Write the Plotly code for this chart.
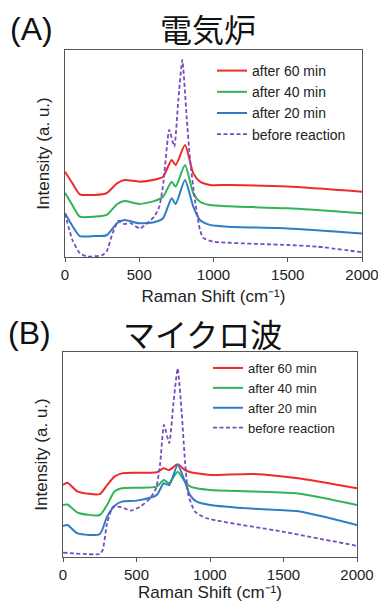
import plotly.graph_objects as go

# ---------------- data (arbitrary intensity units, 0-100 of panel height) ----------------
series_names = ["after 60 min", "after 40 min", "after 20 min", "before reaction"]

# Panel A: 電気炉
a_x = [0, 50, 100, 200, 280, 350, 400, 500, 600, 660, 718, 745, 808, 864, 909, 976, 1100, 1500, 2000]
a_60 = [41.2, 35.6, 30.3, 30, 30.8, 35.6, 37.2, 36.4, 37.3, 38.8, 46.9, 44.4, 54.1, 40.4, 36.4, 34.8, 34.8, 34, 31.5]
a_40 = [31, 25, 19.5, 19.5, 20.3, 25.5, 27, 25.6, 27, 29.1, 36.4, 34, 44.4, 30.8, 26.7, 25.1, 24.5, 23.5, 21.1]
a_20 = [21.1, 15, 10.1, 10.1, 10.5, 16.3, 17.9, 16.3, 16.8, 18.7, 28.4, 25.6, 37.2, 24.3, 17.9, 15.5, 14.6, 13.8, 11.4]
a_before_x = [0, 50, 100, 150, 250, 280, 320, 360, 400, 440, 505, 600, 635, 662, 702, 736, 763, 790,
              819, 842, 875, 909, 931, 1000, 1500, 1700, 2000]
a_before = [21.1, 8.2, 1.8, 0.2, 0.9, 2.6, 11.4, 17.5, 15.9, 16.4, 13.8, 19.5, 24.3, 35.6, 61.4, 53.3, 75.8, 95.2,
            67.8, 46.9, 27.5, 13, 9.2, 7.4, 5.8, 5, 2.3]

# Panel B: マイクロ波
b_x = [0, 30, 100, 250, 300, 350, 400, 500, 637, 685, 722, 780, 830, 864, 909, 1000, 1300, 1600, 2000]
b_60 = [35.1, 36.2, 31.9, 30.7, 35.1, 39.2, 40.8, 41.1, 41.3, 43.3, 42.4, 45.2, 42.4, 41.5, 40.8, 40, 40.5, 38.4, 33.5]
b_40 = [25.4, 25.6, 21.6, 20.5, 25.4, 31.9, 33.5, 33.8, 34.3, 37.6, 36, 41.6, 36.7, 34.5, 33.5, 32.7, 32, 31, 25.4]
b_20 = [15.1, 15.6, 11.5, 11.2, 19.7, 24.9, 27, 27.5, 30.2, 36, 35, 44.9, 36.7, 30.2, 27, 25.4, 23.5, 22.3, 15.6]
b_before_x = [0, 250, 270, 300, 340, 400, 460, 524, 592, 633, 660, 687, 723, 750, 780, 807, 830, 853,
              898, 977, 1500, 2000]
b_before = [2.1, 1.5, 3.4, 16.4, 24.5, 24.2, 22.6, 24.5, 28.6, 33.5, 44.9, 64.4, 55.5, 74, 92, 70.9, 46.5, 30.2,
            22.1, 18.9, 12.3, 5.4]

x_ticks = [0, 500, 1000, 1500, 2000]
panel_labels = ["(A)", "(B)"]
panel_titles = ["電気炉", "マイクロ波"]
x_title = "Raman Shift (cm⁻¹)"
y_title = "Intensity (a. u.)"

# ---------------- figure ----------------
W, H = 378, 602
colors = ["#ee2b2b", "#2fb457", "#2e7ec4", "#7a4bc0"]
FONT = "Liberation Sans, Arial, sans-serif"
JP = "Noto Sans CJK JP, sans-serif"

fig = go.Figure()

panels = [
    ("x", "y", "legend", a_x, [a_60, a_40, a_20], a_before_x, a_before),
    ("x2", "y2", "legend2", b_x, [b_60, b_40, b_20], b_before_x, b_before),
]
for xa, ya, lg, xs, solids, bx, bv in panels:
    for i, ys in enumerate(solids):
        fig.add_trace(go.Scatter(x=xs, y=ys, mode="lines", name=series_names[i], xaxis=xa, yaxis=ya,
                                 legend=lg, line=dict(color=colors[i], width=2, shape="spline", smoothing=0.6)))
    fig.add_trace(go.Scatter(x=bx, y=bv, mode="lines", name=series_names[3], xaxis=xa, yaxis=ya, legend=lg,
                             line=dict(color=colors[3], width=1.8, dash="4px,2.5px", shape="spline",
                                       smoothing=0.5)))


def px_x(p):
    return p / W


def px_y(p):
    return 1 - p / H


axis_common = dict(showline=True, linecolor="#555", linewidth=1, mirror=True, showgrid=False, zeroline=False,
                   automargin=False)
xcommon = dict(axis_common, range=[0, 2000], tickvals=x_ticks, ticks="outside", ticklen=4, tickcolor="#555",
               ticklabeloverflow="allow",
               tickfont=dict(family=FONT, size=15, color="#222"),
               title=dict(text=x_title, font=dict(family=FONT, size=17, color="#222"), standoff=8))
ycommon = dict(axis_common, range=[0, 100], showticklabels=False, ticks="",
               title=dict(text=y_title, font=dict(family=FONT, size=17, color="#222"), standoff=10))

fig.update_layout(
    width=W, height=H, margin=dict(l=0, r=0, t=0, b=0, autoexpand=False),
    paper_bgcolor="white", plot_bgcolor="white",
    xaxis=dict(xcommon, domain=[px_x(65), px_x(362)], anchor="y"),
    yaxis=dict(ycommon, domain=[px_y(257), px_y(50)], anchor="x"),
    xaxis2=dict(xcommon, domain=[px_x(63), px_x(357)], anchor="y2"),
    yaxis2=dict(ycommon, domain=[px_y(557), px_y(352)], anchor="x2"),
    legend=dict(x=px_x(212), y=px_y(55), xanchor="left", yanchor="top", bgcolor="rgba(0,0,0,0)",
                font=dict(family=FONT, size=14, color="#222"), itemwidth=30, traceorder="normal"),
    legend2=dict(x=px_x(208), y=px_y(353), xanchor="left", yanchor="top", bgcolor="rgba(0,0,0,0)",
                 font=dict(family=FONT, size=13, color="#222"), itemwidth=30, traceorder="normal"),
    showlegend=True,
)

annots = [
    dict(text=panel_labels[0], x=px_x(8), y=px_y(29), xanchor="left", font=dict(family=FONT, size=32, color="#111")),
    dict(text=panel_titles[0], x=px_x(208), y=px_y(28), xanchor="center", font=dict(family=JP, size=32, color="#111")),
    dict(text=panel_labels[1], x=px_x(6), y=px_y(333), xanchor="left", font=dict(family=FONT, size=32, color="#111")),
    dict(text=panel_titles[1], x=px_x(202), y=px_y(333), xanchor="center", font=dict(family=JP, size=32, color="#111")),
]
for a in annots:
    fig.add_annotation(xref="paper", yref="paper", showarrow=False, yanchor="middle", **a)

fig.write_html("out.html")
